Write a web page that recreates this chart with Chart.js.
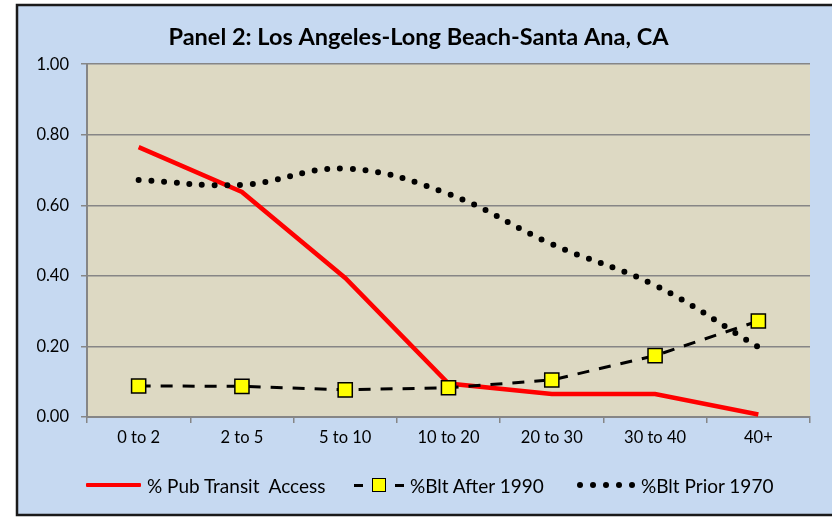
<!DOCTYPE html>
<html>
<head>
<meta charset="utf-8">
<script src="https://cdn.jsdelivr.net/npm/chart.js@4.4.1/dist/chart.umd.min.js"></script>
<style>
  body { margin: 0; background: #fff; }
  #wrap { position: relative; width: 832px; height: 518px; overflow: hidden; }
  #chart { position: absolute; left: 0; top: 0; }
  .item {
    position: absolute; top: 474px; height: 22px;
    display: flex; align-items: center; white-space: pre;
    font-family: Lato, "Open Sans", sans-serif; font-size: 19px; color: #000;
  }
  .swatch { display: flex; align-items: center; margin-right: 6px; }
  .red { width: 55px; height: 4px; background: #ff0000; border-radius: 1px; }
  .dash { width: 9px; height: 3px; background: #000; }
  .sq { width: 12px; height: 12px; background: #ffff00; border: 1.5px solid #000; margin: 0 9px; }
  .dot { width: 6px; height: 6px; border-radius: 50%; background: #000; margin-right: 7px; }
  .dot:last-child { margin-right: 0; }
</style>
</head>
<body>
<div id="wrap">
  <canvas id="chart" width="832" height="518"></canvas>
</div>
<script>
// values
const categories = ['0 to 2', '2 to 5', '5 to 10', '10 to 20', '20 to 30', '30 to 40', '40+'];
const pubTransit = [0.765, 0.638, 0.394, 0.095, 0.065, 0.065, 0.007];
const bltAfter1990 = [0.088, 0.087, 0.077, 0.083, 0.105, 0.174, 0.272];
const bltPrior1970 = [0.672, 0.658, 0.704, 0.632, 0.49, 0.373, 0.198];
const yTicks = [0, 0.2, 0.4, 0.6, 0.8, 1.0];
const seriesLabels = ['% Pub Transit  Access', '%Blt After 1990', '%Blt Prior 1970'];
const legendLefts = [86, 354, 577];

const FONT = 'Lato, "Open Sans", sans-serif';
const GRID = '#868686';

// outer frame + plot fill, drawn like the Excel chart
const framePlugin = {
  id: 'frame',
  beforeDraw(chart) {
    const ctx = chart.ctx;
    const area = chart.chartArea;
    ctx.save();
    ctx.fillStyle = '#ffffff';
    ctx.fillRect(0, 0, chart.width, chart.height);
    ctx.fillStyle = '#c6d9f1';
    ctx.fillRect(17, 5, chart.width - 17, 510);
    ctx.strokeStyle = '#1a1a1a';
    ctx.lineWidth = 2.5;
    ctx.beginPath();
    ctx.moveTo(chart.width + 2, 5);
    ctx.lineTo(17, 5);
    ctx.lineTo(17, 515);
    ctx.lineTo(chart.width + 2, 515);
    ctx.stroke();
    ctx.fillStyle = '#ddd9c3';
    ctx.fillRect(area.left, area.top, area.right - area.left, area.bottom - area.top);
    ctx.restore();
  }
};

const chart = new Chart(document.getElementById('chart'), {
  type: 'line',
  data: {
    labels: categories,
    datasets: [
      {
        label: seriesLabels[0],
        data: pubTransit,
        borderColor: '#ff0000',
        borderWidth: 4.5,
        pointRadius: 0,
        tension: 0,
        order: 3
      },
      {
        label: seriesLabels[1],
        data: bltAfter1990,
        borderColor: '#000000',
        borderWidth: 3,
        borderDash: [12, 10],
        pointStyle: 'rect',
        pointRadius: 10,
        pointBackgroundColor: '#ffff00',
        pointBorderColor: '#000000',
        pointBorderWidth: 1.5,
        tension: 0,
        order: 1
      },
      {
        label: seriesLabels[2],
        data: bltPrior1970,
        borderColor: '#000000',
        borderWidth: 6,
        borderDash: [0, 12.7],
        borderCapStyle: 'round',
        pointRadius: 0,
        tension: 0.4,
        order: 2
      }
    ]
  },
  options: {
    responsive: false,
    animation: false,
    layout: { padding: { left: 27, right: 22, top: 0, bottom: 61 } },
    plugins: {
      legend: { display: false },
      tooltip: { enabled: false },
      title: {
        display: true,
        text: 'Panel 2: Los Angeles-Long Beach-Santa Ana, CA',
        color: '#000',
        font: { family: FONT, size: 23.5, weight: 'bold' },
        padding: { top: 23, bottom: 13 }
      }
    },
    scales: {
      x: {
        offset: true,
        afterFit(scale) { scale.height = 40; },
        grid: { display: true, drawOnChartArea: false, offset: true, color: GRID, lineWidth: 1.5, tickLength: 6 },
        border: { display: true, color: GRID, width: 2 },
        ticks: { color: '#000', font: { family: FONT, size: 16.5 }, padding: 5, maxRotation: 0 }
      },
      y: {
        min: 0,
        max: 1,
        afterFit(scale) { scale.width = 60; },
        afterBuildTicks(scale) { scale.ticks = yTicks.map(v => ({ value: v })); },
        grid: { color: GRID, lineWidth: 1.5, tickLength: 6 },
        border: { display: true, color: GRID, width: 2 },
        ticks: {
          color: '#000',
          font: { family: FONT, size: 16.5 },
          padding: 12,
          callback: v => v.toFixed(2)
        }
      }
    }
  },
  plugins: [framePlugin]
});

// legend built as html so the samples match the Excel look
const wrap = document.getElementById('wrap');
const samples = [
  '<span class="red"></span>',
  '<span class="dash"></span><span class="sq"></span><span class="dash"></span>',
  '<span class="dot"></span><span class="dot"></span><span class="dot"></span><span class="dot"></span><span class="dot"></span>'
];
seriesLabels.forEach((label, i) => {
  const item = document.createElement('div');
  item.className = 'item';
  item.style.left = legendLefts[i] + 'px';
  item.innerHTML = `<span class="swatch">${samples[i]}</span><span>${label}</span>`;
  wrap.appendChild(item);
});
</script>
</body>
</html>
